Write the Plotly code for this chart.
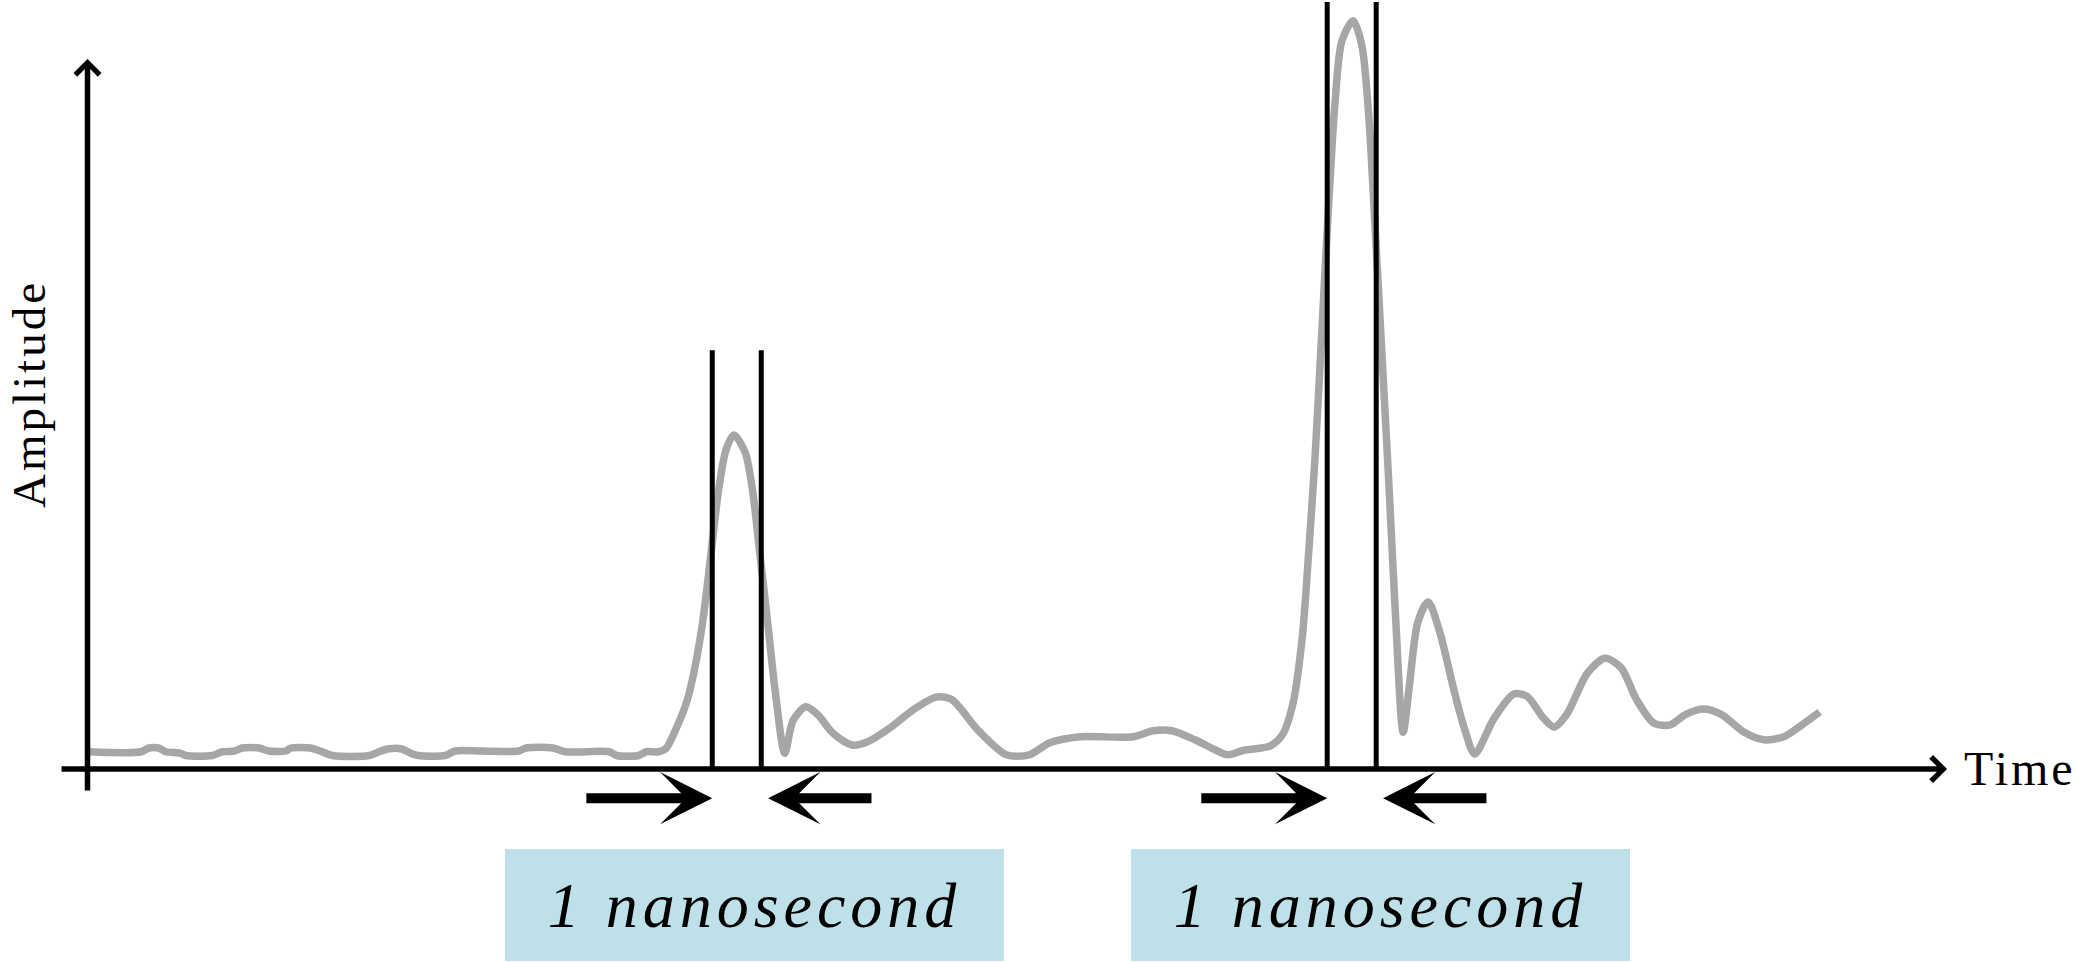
import plotly.graph_objects as go

# Received waveform: time in nanoseconds, amplitude in arbitrary units
time_ns = [
    0.05, 1.1, 1.25, 1.45, 1.6, 1.9, 2.0, 2.55, 2.75, 3.0, 3.15, 3.5, 3.7, 4.05,
    4.15, 4.55, 4.75, 5.0, 5.75, 5.95, 6.15, 6.4, 6.6, 6.75, 7.3, 7.5, 8.05, 8.8,
    8.95, 9.5, 9.75, 10.65, 10.8, 11.25, 11.4, 11.65,
    11.8, 12.0, 12.24, 12.4, 12.56, 12.71, 12.87, 13.03, 13.19, 13.42, 13.57,
    13.72, 13.89, 14.04, 14.23, 14.4, 14.66, 14.91, 15.21, 15.6, 15.91, 16.38,
    16.85, 17.32, 17.63, 18.17, 18.75, 19.22, 19.64, 20.26, 21.34, 21.75, 22.13,
    22.6, 23.0, 23.27, 23.6, 24.14, 24.38, 24.6, 24.79, 24.91, 25.05, 25.19,
    25.33, 25.46, 25.6, 25.83, 26.01, 26.15, 26.28, 26.42, 26.56, 26.69, 26.85,
    26.97, 27.15, 27.36, 27.6, 27.88, 28.11, 28.31, 28.7, 29.11, 29.38, 29.7,
    29.93, 30.19, 30.61, 30.97, 31.3, 31.61, 31.97, 32.3, 32.62, 32.98, 33.34,
    33.81, 34.21, 34.62, 34.99, 35.35,
]
amplitude = [
    2.3, 2.3, 2.8, 2.8, 2.3, 2.1, 1.8, 1.8, 2.3, 2.4, 2.8, 2.8, 2.4, 2.4,
    2.8, 2.8, 2.4, 1.8, 1.8, 2.3, 2.7, 2.7, 2.1, 1.8, 1.8, 2.4, 2.4, 2.4,
    2.8, 2.8, 2.3, 2.3, 1.8, 1.8, 2.3, 2.3,
    2.7, 5.2, 9.2, 13.7, 19.9, 27.9, 36.8, 42.6, 44.6, 42.3, 37.3,
    28.8, 19.0, 10.1, 2.1, 6.5, 8.3, 7.2, 4.8, 3.2, 3.6, 5.5,
    7.9, 9.6, 9.3, 5.2, 1.9, 1.9, 3.5, 4.3, 4.3, 5.1, 5.1,
    3.9, 2.6, 1.9, 2.5, 3.1, 4.5, 8.7, 17.5, 27.8, 41.4, 58.4,
    75.4, 89.0, 97.2, 99.9, 96.5, 87.0, 72.0, 55.0, 37.9, 21.0, 4.9,
    10.7, 19.6, 22.3, 18.2, 10.7, 5.2, 2.0, 6.7, 10.0, 9.7, 6.9,
    5.6, 7.3, 12.8, 14.8, 13.5, 9.3, 6.1, 5.9, 7.3, 8.0, 7.3,
    4.9, 3.9, 4.3, 5.9, 7.6,
]

# 1 ns measurement windows around the two pulses
window_start_ns = [12.75, 25.3]
window_length_ns = [1.0, 1.0]
window_marker_top = [55.9, 102.4]
window_labels = ["1 nanosecond", "1 nanosecond"]

# layout constants
X_RANGE = [-1.786, 40.643]
Y_RANGE = [-25.77, 102.67]
ARROW_Y = -3.9
LABEL_Y = -18.16
LABEL_CENTERS = [13.61, 26.39]
BOX_W, BOX_H = 499, 112
SERIF = "Liberation Serif"

fig = go.Figure()

fig.add_trace(go.Scatter(
    x=time_ns, y=amplitude, mode="lines",
    line=dict(color="#A6A6A6", width=7.5, shape="spline", smoothing=0.8),
    hoverinfo="skip", showlegend=False,
))


def arrow(x_head, y_head, x_tail, y_tail, head, size, width):
    fig.add_annotation(
        x=x_head, y=y_head, ax=x_tail, ay=y_tail,
        xref="x", yref="y", axref="x", ayref="y",
        text="", showarrow=True, arrowhead=head, arrowsize=size,
        arrowwidth=width, arrowcolor="black", standoff=0,
    )


# axes drawn as arrows
arrow(37.95, 0, -0.56, 0, 4, 0.85, 5.5)
arrow(0, 94.8, 0, -3.07, 4, 0.85, 5.5)

# window markers, converging arrows and labels
for start, length, top, label, cx in zip(
    window_start_ns, window_length_ns, window_marker_top, window_labels, LABEL_CENTERS
):
    end = start + length
    for t in (start, end):
        fig.add_shape(
            type="line", xref="x", yref="y", x0=t, x1=t, y0=0, y1=top,
            line=dict(color="black", width=5), layer="above",
        )
    arrow(start, ARROW_Y, start - 2.6, ARROW_Y, 3, 0.87, 10)
    arrow(end + 0.14, ARROW_Y, end + 2.28, ARROW_Y, 3, 0.87, 10)
    fig.add_annotation(
        x=cx, y=LABEL_Y, xref="x", yref="y", showarrow=False,
        text='<span style="letter-spacing:5px">' + label + "</span>",
        width=BOX_W, height=BOX_H, bgcolor="#BEE1E9",
        borderpad=0, borderwidth=0, align="center", valign="middle",
        font=dict(family=SERIF, size=64, color="black", style="italic"),
    )

fig.add_annotation(
    x=1962 / 2079, y=0, xref="paper", yref="y", xanchor="left", yanchor="middle",
    showarrow=False, text='<span style="letter-spacing:3px">Time</span>',
    font=dict(family=SERIF, size=48, color="black"),
)
fig.add_annotation(
    x=29 / 2079, y=1 - 394 / 962, xref="paper", yref="paper",
    xanchor="center", yanchor="middle", textangle=-90, showarrow=False,
    text='<span style="letter-spacing:3px">Amplitude</span>',
    font=dict(family=SERIF, size=47, color="black"),
)

fig.update_layout(
    width=2079, height=962,
    margin=dict(l=0, r=0, t=0, b=0),
    paper_bgcolor="white", plot_bgcolor="white",
    xaxis=dict(range=X_RANGE, visible=False, fixedrange=True),
    yaxis=dict(range=Y_RANGE, visible=False, fixedrange=True),
    showlegend=False,
)

fig.write_html("out.html")
